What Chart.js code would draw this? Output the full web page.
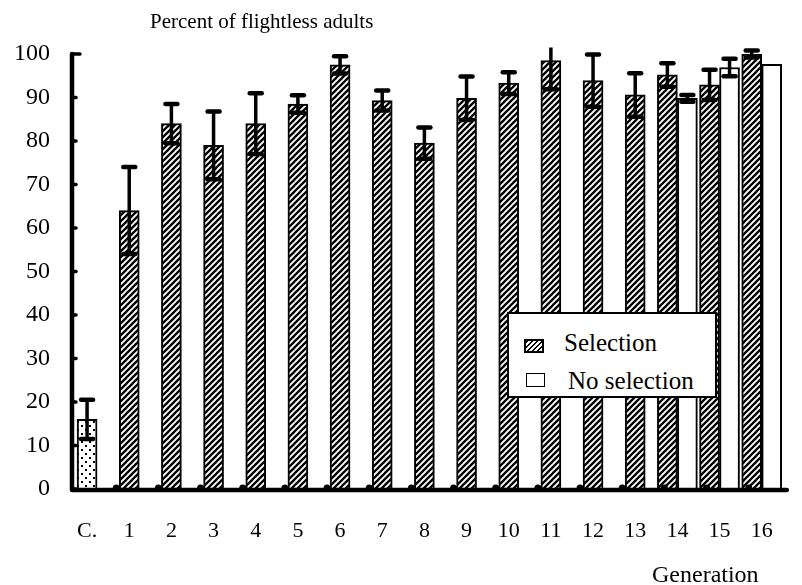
<!DOCTYPE html>
<html>
<head>
<meta charset="utf-8">
<script src="https://cdn.jsdelivr.net/npm/chart.js@4/dist/chart.umd.min.js"></script>
<style>
  html, body { margin: 0; padding: 0; background: #fff; }
  #wrap { position: relative; width: 802px; height: 585px; font-family: "Liberation Serif", "Times New Roman", serif; color: #000; }
  #chart { position: absolute; left: 0; top: 0; }
  .txt { position: absolute; white-space: nowrap; line-height: 1; }
  #title { left: 150px; top: 11px; font-size: 21px; }
  #xtitle { left: 652px; top: 562px; font-size: 24px; }
  #legend { position: absolute; left: 507px; top: 312px; width: 206px; height: 82px; border: 2px solid #000; background: #fff; }
  .sw { position: absolute; box-sizing: border-box; border: 2px solid #000; }
  #sw-sel { left: 15px; top: 25px; width: 20px; height: 14px;
    background: repeating-linear-gradient(135deg, #000 0 1.6px, #fff 1.6px 3.6px); }
  #sw-no { left: 17px; top: 59px; width: 19px; height: 14px; border-width: 1.5px; background: #fff; }
  #lg-sel { left: 55px; top: 16px; font-size: 25px; }
  #lg-no { left: 59px; top: 54px; font-size: 25px; }
</style>
</head>
<body>
<div id="wrap">
  <canvas id="chart" width="802" height="585"></canvas>
  <div class="txt" id="title">Percent of flightless adults</div>
  <div class="txt" id="xtitle">Generation</div>
  <div id="legend">
    <div class="sw" id="sw-sel"></div><div class="txt" id="lg-sel">Selection</div>
    <div class="sw" id="sw-no"></div><div class="txt" id="lg-no">No selection</div>
  </div>
</div>
<script>
"use strict";

const GENERATIONS = ["C.", "1", "2", "3", "4", "5", "6", "7", "8", "9", "10", "11", "12", "13", "14", "15", "16"];
const CONTROL = [16, null, null, null, null, null, null, null, null, null, null, null, null, null, null, null, null];
const CONTROL_ERR = [4.5, null, null, null, null, null, null, null, null, null, null, null, null, null, null, null, null];
const SELECTION = [null, 64, 84, 79, 84, 88.5, 97.5, 89.3, 79.5, 89.8, 93.3, 98.5, 93.9, 90.6, 95.2, 92.9, 100];
const SELECTION_ERR = [null, 10, 4.5, 7.8, 7, 2, 2, 2.3, 3.6, 5, 2.5, 6.6, 6, 5, 2.7, 3.5, 0.8];
const NO_SELECTION = [null, null, null, null, null, null, null, null, null, null, null, null, null, null, 89.8, 96.9, 97.6];
const NO_SELECTION_ERR = [null, null, null, null, null, null, null, null, null, null, null, null, null, null, 0.8, 2, 0];
const Y_TICKS = [0, 10, 20, 30, 40, 50, 60, 70, 80, 90, 100];

const SERIF = '"Liberation Serif", "Times New Roman", serif';
Chart.defaults.font.family = SERIF;
Chart.defaults.color = "#000";

function tile(size, paint) {
  const c = document.createElement("canvas");
  c.width = size; c.height = size;
  const g = c.getContext("2d");
  g.fillStyle = "#fff"; g.fillRect(0, 0, size, size);
  paint(g);
  return document.getElementById("chart").getContext("2d").createPattern(c, "repeat");
}

// "/" stripes, seamless over a 6px tile
const hatch = tile(6, (g) => {
  g.strokeStyle = "#000"; g.lineWidth = 2.3;
  [[-6, 6], [0, 12], [0, 6]].forEach(([x0, y0]) => {
    g.beginPath(); g.moveTo(x0, y0); g.lineTo(x0 + 12, y0 - 12); g.stroke();
  });
});
const dots = tile(8, (g) => {
  g.fillStyle = "#000";
  g.fillRect(1, 1, 2, 2); g.fillRect(5, 5, 2, 2);
});

const errorBars = {
  id: "errorBars",
  afterDatasetsDraw(chart) {
    const { ctx, scales: { y } } = chart;
    ctx.save();
    ctx.beginPath(); ctx.rect(0, y.getPixelForValue(101.5), chart.width, chart.height); ctx.clip();
    ctx.strokeStyle = "#000"; ctx.lineCap = "round";
    chart.data.datasets.forEach((ds, di) => {
      chart.getDatasetMeta(di).data.forEach((bar, i) => {
        const v = ds.data[i], e = ds.err[i];
        if (v == null || !e) return;
        const hi = y.getPixelForValue(v + e), lo = y.getPixelForValue(v - e);
        ctx.lineWidth = 3.5;
        ctx.beginPath(); ctx.moveTo(bar.x, hi); ctx.lineTo(bar.x, lo); ctx.stroke();
        ctx.lineWidth = 4.5;
        [hi, lo].forEach((py) => { ctx.beginPath(); ctx.moveTo(bar.x - 6, py); ctx.lineTo(bar.x + 6, py); ctx.stroke(); });
      });
    });
    ctx.restore();
  },
};

const axes = {
  id: "axes",
  afterDatasetsDraw(chart) {
    const { ctx, chartArea: a, scales: { x, y } } = chart;
    const ax = a.left + 6, base = y.getPixelForValue(0) + 1;
    ctx.save();
    ctx.strokeStyle = "#000"; ctx.fillStyle = "#000"; ctx.lineCap = "round"; ctx.lineJoin = "round";
    ctx.lineWidth = 4.5;
    ctx.beginPath(); ctx.moveTo(ax, y.getPixelForValue(100)); ctx.lineTo(ax, base); ctx.lineTo(a.right + 4, base); ctx.stroke();
    ctx.lineWidth = 3.5;
    Y_TICKS.forEach((t) => {
      const py = y.getPixelForValue(t);
      ctx.beginPath(); ctx.moveTo(ax, py); ctx.lineTo(ax + (t === 100 ? 8 : 4), py); ctx.stroke();
    });
    // small bumps on the base line, just left of each generation's bar
    GENERATIONS.forEach((g, i) => {
      if (i === 0) return;
      ctx.beginPath(); ctx.arc(x.getPixelForValue(i) - 13, base - 2, 3.5, 0, Math.PI * 2); ctx.fill();
    });
    ctx.restore();
  },
};

const barStyle = { borderColor: "#000", borderWidth: 2, skipNull: true, barThickness: 20 };

new Chart(document.getElementById("chart"), {
  type: "bar",
  data: {
    labels: GENERATIONS,
    datasets: [
      { label: "Control", data: CONTROL, err: CONTROL_ERR, backgroundColor: dots, ...barStyle },
      { label: "Selection", data: SELECTION, err: SELECTION_ERR, backgroundColor: hatch, ...barStyle },
      { label: "No selection", data: NO_SELECTION, err: NO_SELECTION_ERR, backgroundColor: "#fff", ...barStyle },
    ],
  },
  options: {
    responsive: false, animation: false, devicePixelRatio: 1,
    layout: { padding: { top: 54, right: 10, left: 0, bottom: 0 } },
    plugins: { legend: { display: false }, tooltip: { enabled: false } },
    scales: {
      x: {
        grid: { display: false, drawTicks: false }, border: { display: false },
        ticks: { font: { size: 22 }, padding: 29, maxRotation: 0, autoSkip: false },
        afterFit: (s) => { s.height = 96; },
      },
      y: {
        min: 0, max: 100,
        grid: { display: false, drawTicks: false }, border: { display: false },
        ticks: { stepSize: 10, font: { size: 24 }, padding: 16 },
        afterFit: (s) => { s.width = 66; },
      },
    },
  },
  plugins: [errorBars, axes],
});
</script>
</body>
</html>
